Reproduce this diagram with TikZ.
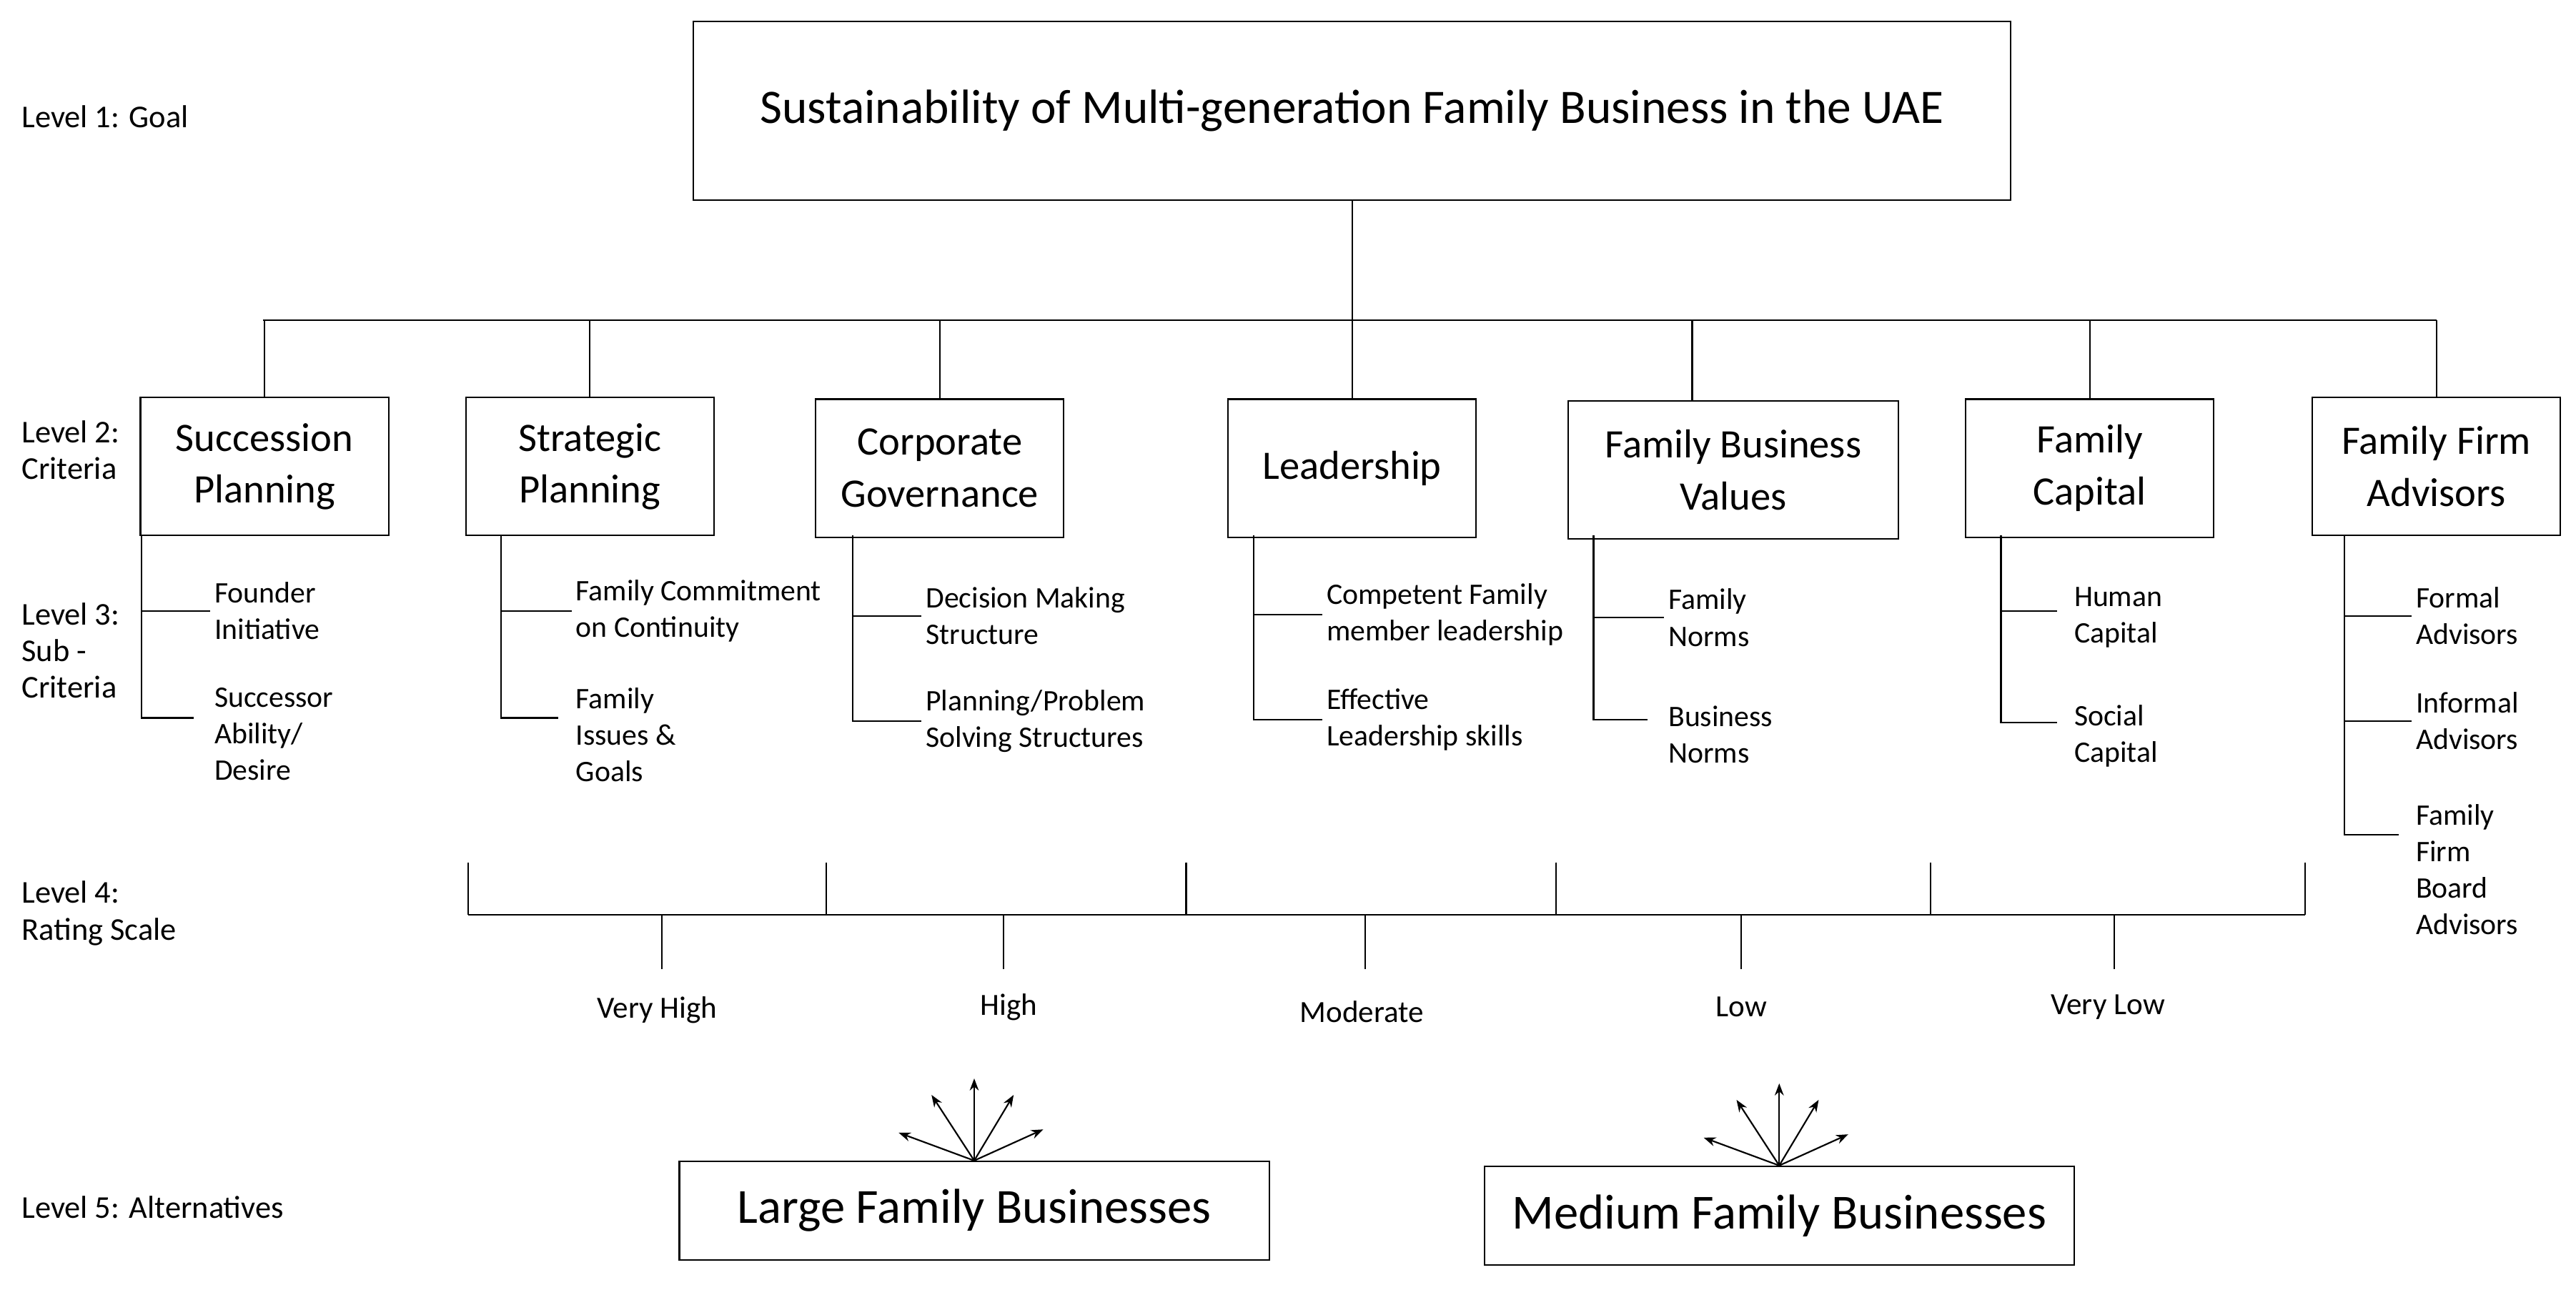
\documentclass[tikz,border=0pt]{standalone}
\usepackage{fontspec}
\setmainfont{Carlito}
\usetikzlibrary{arrows.meta, positioning}

\begin{document}
\begin{tikzpicture}[
  x=0.03cm, y=-0.03cm,
  goalbox/.style={rectangle, draw, thick, minimum width=802*0.03cm, minimum height=109*0.03cm, font=\fontsize{25}{29}\selectfont},
  critbox/.style={rectangle, draw, thick, minimum width=151*0.03cm, minimum height=84*0.03cm, align=center, font=\fontsize{21}{27}\selectfont},
  altbox/.style={rectangle, draw, thick, minimum width=359*0.03cm, minimum height=60*0.03cm, font=\fontsize{25.5}{29}\selectfont},
  sub/.style={align=left, anchor=west, inner sep=2pt, font=\fontsize{15.5}{19}\selectfont},
  subtop/.style={sub, anchor=north west},
  rate/.style={font=\fontsize{16}{19}\selectfont},
  level/.style={align=left, anchor=west, inner sep=0pt, font=\fontsize{16.5}{19}\selectfont},
  link/.style={thick},
  arrow/.style={-{Stealth[length=2.2mm]}, thick}
]
\useasboundingbox (0,0) rectangle (1568,785);

% level 1
\node[goalbox] (goal) at (823,67.5) {Sustainability of Multi-generation Family Business in the UAE};
\coordinate (bus) at (823,195);
\draw[link] (goal) -- (bus);
\draw[link] (160,195) -- (1483,195);

% level 2
\node[critbox] (succ) at (161,284) {Succession\\Planning};
\node[critbox] (strat) at (359,284) {Strategic\\Planning};
\node[critbox] (corp) at (572,285) {Corporate\\Governance};
\node[critbox] (lead) at (823,285) {Leadership};
\node[critbox, minimum width=201*0.03cm] (values) at (1055,286) {Family Business\\Values};
\node[critbox] (capital) at (1272,285) {Family\\Capital};
\node[critbox] (advisors) at (1483,284) {Family Firm\\Advisors};
\foreach \c in {succ,strat,corp,lead,capital,advisors}
  \draw[link] (\c.north) -- (\c.north |- bus);
\draw[link] ([xshift=-25*0.03cm]values.north) -- ++(0,-48);

% level 3
\node[sub] (founder) at (128,372) {Founder\\Initiative};
\node[subtop] (successor) at (128,416) {Successor\\Ability/\\Desire};
\draw[link] (86,326) -- (86,437) -- (118,437);
\draw[link] (86,372) -- (founder.west);

\node[sub] (commit) at (348,372) {Family Commitment\\on Continuity};
\node[subtop] (issues) at (348,416) {Family\\Issues \&\\Goals};
\draw[link] (305,326) -- (305,437) -- (340,437);
\draw[link] (305,372) -- (commit.west);

\node[sub] (decision) at (561,375) {Decision Making\\Structure};
\node[sub] (problem) at (561,439) {Planning/Problem\\Solving Structures};
\draw[link] (519,326) -- (519,439) -- (problem.west);
\draw[link] (519,375) -- (decision.west);

\node[sub] (competent) at (805,374) {Competent Family\\member leadership};
\node[sub] (effective) at (805,438) {Effective\\Leadership skills};
\draw[link] (763,326) -- (763,438) -- (effective.west);
\draw[link] (763,374) -- (competent.west);

\node[sub] (famnorms) at (1013,376) {Family\\Norms};
\node[sub] (busnorms) at (1013,447) {Business\\Norms};
\draw[link] (970,326) -- (970,438) -- (1003,438);
\draw[link] (970,376) -- (famnorms.west);

\node[sub] (human) at (1260,376) {Human\\Capital};
\node[sub] (social) at (1260,448) {Social\\Capital};
\draw[link] (1218,326) -- (1218,440) -- (1252,440);
\draw[link] (1218,372) -- (1252,372);

\node[sub] (formal) at (1468,375) {Formal\\Advisors};
\node[sub] (informal) at (1468,439) {Informal\\Advisors};
\node[subtop] (board) at (1468,487) {Family\\Firm\\Board\\Advisors};
\draw[link] (1427,326) -- (1427,508) -- (1460,508);
\draw[link] (1427,375) -- (formal.west);
\draw[link] (1427,439) -- (informal.west);

% level 4
\draw[link] (285,557) -- (1403,557);
\foreach \x in {285,503,722,947,1175,1403}
  \draw[link] (\x,525) -- (\x,557);
\node[rate] (vhigh) at (400,615) {Very High};
\node[rate] (high) at (614,613) {High};
\node[rate] (moderate) at (829,616) {Moderate};
\node[rate] (low) at (1060,613) {Low};
\node[rate] (vlow) at (1283,613) {Very Low};
\foreach \x/\r in {403/vhigh,611/high,831/moderate,1060/low,1287/vlow}
  \draw[link] (\x,557) -- (\x,590);

% level 5
\node[altbox] (large) at (593,737) {Large Family Businesses};
\node[altbox] (medium) at (1083,740) {Medium Family Businesses};
\foreach \dx/\dy in {-46/-17,-26/-40,0/-50,24/-40,42/-19} {
  \draw[arrow] (large.north) -- ++(\dx,\dy);
  \draw[arrow] (medium.north) -- ++(\dx,\dy);
}

% level labels
\node[level] (l1) at (13,71) {Level 1: Goal};
\node[level] (l2) at (13,274) {Level 2:\\Criteria};
\node[level] (l3) at (13,396) {Level 3:\\Sub -\\Criteria};
\node[level] (l4) at (13,556) {Level 4:\\Rating Scale};
\node[level] (l5) at (13,735) {Level 5: Alternatives};

\end{tikzpicture}
\end{document}
